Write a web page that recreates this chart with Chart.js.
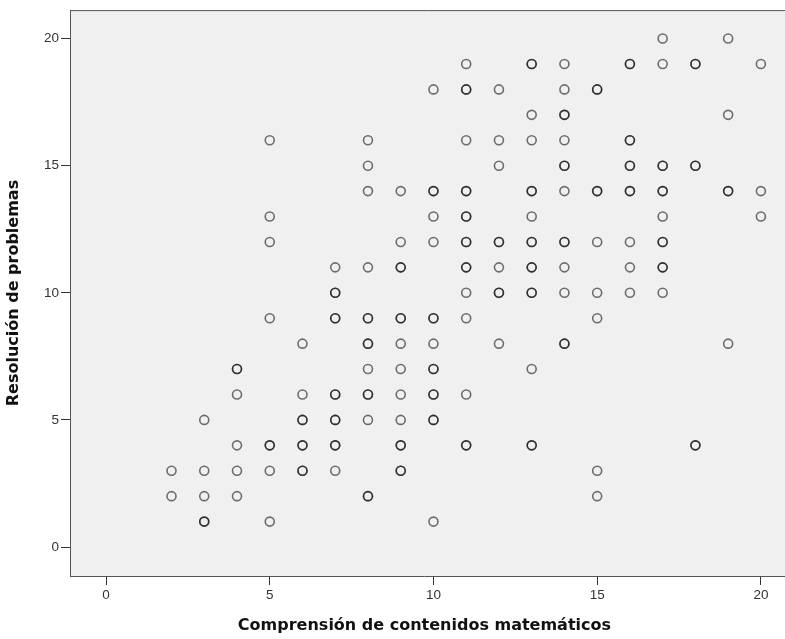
<!DOCTYPE html>
<html>
<head>
<meta charset="utf-8">
<script src="https://cdn.jsdelivr.net/npm/chart.js@4.4.1/dist/chart.umd.min.js"></script>
<style>
  html, body { margin: 0; padding: 0; background: #fff; }
</style>
</head>
<body>
<canvas id="scatter" width="785" height="639"></canvas>
<script>
// Comprensión (x) / Resolución (y), one line per row of the plot
const comprension = [
  17, 19,
  11, 13, 14, 16, 17, 18, 20,
  10, 11, 12, 14, 15,
  13, 14, 19,
  5, 8, 11, 12, 13, 14, 16,
  8, 12, 14, 16, 17, 18,
  8, 9, 10, 11, 13, 14, 15, 16, 17, 19, 20,
  5, 10, 11, 13, 17, 20,
  5, 9, 10, 11, 12, 13, 14, 15, 16, 17,
  7, 8, 9, 11, 12, 13, 14, 16, 17,
  7, 11, 12, 13, 14, 15, 16, 17,
  5, 7, 8, 9, 10, 11, 15,
  6, 8, 9, 10, 12, 14, 19,
  4, 8, 9, 10, 13,
  4, 6, 7, 8, 9, 10, 11,
  3, 6, 7, 8, 9, 10,
  4, 5, 6, 7, 9, 11, 13, 18,
  2, 3, 4, 5, 6, 7, 9, 15,
  2, 3, 4, 8, 15,
  3, 5, 10,
];
const resolucion = [
  20, 20,
  19, 19, 19, 19, 19, 19, 19,
  18, 18, 18, 18, 18,
  17, 17, 17,
  16, 16, 16, 16, 16, 16, 16,
  15, 15, 15, 15, 15, 15,
  14, 14, 14, 14, 14, 14, 14, 14, 14, 14, 14,
  13, 13, 13, 13, 13, 13,
  12, 12, 12, 12, 12, 12, 12, 12, 12, 12,
  11, 11, 11, 11, 11, 11, 11, 11, 11,
  10, 10, 10, 10, 10, 10, 10, 10,
  9, 9, 9, 9, 9, 9, 9,
  8, 8, 8, 8, 8, 8, 8,
  7, 7, 7, 7, 7,
  6, 6, 6, 6, 6, 6, 6,
  5, 5, 5, 5, 5, 5,
  4, 4, 4, 4, 4, 4, 4, 4,
  3, 3, 3, 3, 3, 3, 3, 3,
  2, 2, 2, 2, 2,
  1, 1, 1,
];

// cases that fall on an already used point (drawn darker in the original)
const repComprension = [
  13, 16, 18, 11, 15, 14, 16, 14, 16, 17, 18,
  10, 11, 13, 15, 16, 17, 19, 11, 11, 12, 13, 14, 17,
  9, 11, 13, 17, 7, 12, 13, 7, 8, 9, 10,
  8, 14, 4, 10, 7, 8, 10, 6, 7, 10,
  5, 6, 7, 9, 11, 13, 18, 6, 9, 8, 3,
];
const repResolucion = [
  19, 19, 19, 18, 18, 17, 16, 15, 15, 15, 15,
  14, 14, 14, 14, 14, 14, 14, 13, 12, 12, 12, 12, 12,
  11, 11, 11, 11, 10, 10, 10, 9, 9, 9, 9,
  8, 8, 7, 7, 6, 6, 6, 5, 5, 5,
  4, 4, 4, 4, 4, 4, 4, 3, 3, 2, 1,
];

const xTicks = [0, 5, 10, 15, 20];
const yTicks = [0, 5, 10, 15, 20];

const toPoints = (xs, ys) => xs.map((x, i) => ({ x: x, y: ys[i] }));

// grey plot background and the top/left frame; the frame runs off the right edge
const frame = {
  id: "frame",
  beforeDraw(chart) {
    const { ctx, chartArea: a } = chart;
    ctx.save();
    ctx.fillStyle = "#f0f0f0";
    ctx.fillRect(a.left, a.top, chart.width - a.left, a.bottom - a.top);
    ctx.restore();
  },
  afterDraw(chart) {
    const { ctx, chartArea: a } = chart;
    ctx.save();
    ctx.strokeStyle = "#555";
    ctx.lineWidth = 1;
    ctx.beginPath();
    ctx.moveTo(a.left + 0.5, a.bottom + 0.5);
    ctx.lineTo(a.left + 0.5, a.top + 0.5);
    ctx.lineTo(chart.width, a.top + 0.5);
    ctx.moveTo(a.right, a.bottom + 0.5);
    ctx.lineTo(chart.width, a.bottom + 0.5);
    ctx.stroke();
    ctx.restore();
  },
};

const pointStyle = {
  pointStyle: "circle",
  pointRadius: 4.5,
  pointHoverRadius: 4.5,
  pointBorderWidth: 1.6,
  pointBackgroundColor: "rgba(0,0,0,0)",
  pointBorderColor: "rgba(0,0,0,0.55)",
  showLine: false,
};

const tickFont = { family: "Liberation Sans, Arial", size: 13.5 };
const titleFont = { family: "DejaVu Sans", size: 16, weight: "bold" };

new Chart(document.getElementById("scatter"), {
  type: "scatter",
  data: {
    datasets: [
      { label: "casos", data: toPoints(comprension, resolucion), ...pointStyle },
      { label: "repetidos", data: toPoints(repComprension, repResolucion), ...pointStyle },
    ],
  },
  options: {
    responsive: false,
    animation: false,
    layout: { padding: { top: 10, right: 0, left: 0, bottom: 0 } },
    plugins: {
      legend: { display: false },
      tooltip: { enabled: false },
    },
    scales: {
      x: {
        type: "linear",
        min: -1.1,
        max: 20.55,
        afterBuildTicks: (s) => { s.ticks = xTicks.map((v) => ({ value: v })); },
        afterFit: (s) => { s.height = 63; },
        grid: { drawOnChartArea: false, drawTicks: true, tickLength: 9, color: "#333" },
        border: { display: true, color: "#555" },
        ticks: { color: "#333", font: tickFont, padding: 2, maxRotation: 0 },
        title: {
          display: true,
          text: "Comprensión de contenidos matemáticos",
          color: "#111",
          font: titleFont,
          padding: { top: 9 },
        },
      },
      y: {
        type: "linear",
        min: -1.14,
        max: 21.12,
        afterBuildTicks: (s) => { s.ticks = yTicks.map((v) => ({ value: v })); },
        afterFit: (s) => { s.width = 70; },
        grid: { drawOnChartArea: false, drawTicks: true, tickLength: 9, color: "#333" },
        border: { display: true, color: "#555" },
        ticks: { color: "#333", font: tickFont, padding: 2 },
        title: {
          display: true,
          text: "Resolución de problemas",
          color: "#111",
          font: titleFont,
          padding: { bottom: 4 },
        },
      },
    },
  },
  plugins: [frame],
});
</script>
</body>
</html>
